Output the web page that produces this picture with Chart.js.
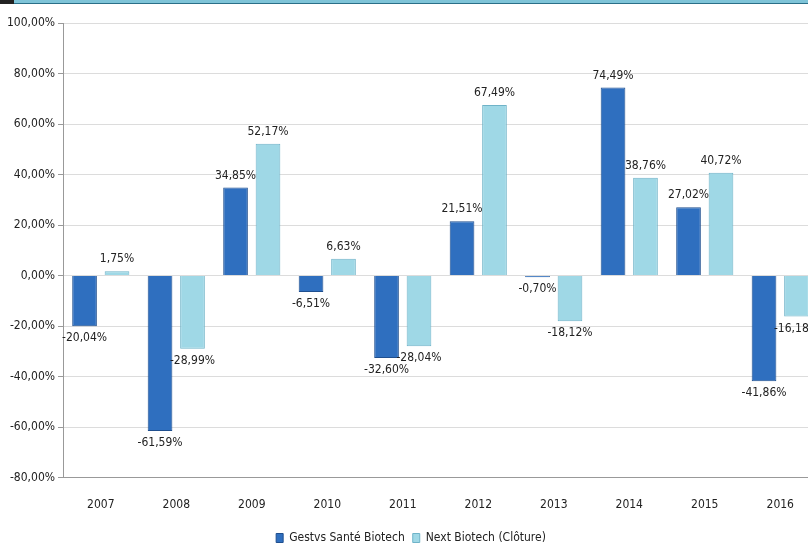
<!DOCTYPE html>
<html>
<head>
<meta charset="utf-8">
<script src="https://cdn.jsdelivr.net/npm/chart.js@4"></script>
<style>
  html, body { margin: 0; padding: 0; background: #fff; overflow: hidden; }
  #topbar { position: absolute; left: 0; top: 0; width: 808px; height: 3px; background: #7fc4d8; border-bottom: 1px solid #2a6f88; }
  #topbar-dark { position: absolute; left: 0; top: 0; width: 14px; height: 4px; background: #222; }
  #wrap { position: absolute; left: 0; top: 0; width: 818px; height: 554px; }
</style>
</head>
<body>
<div id="wrap"><canvas id="chart"></canvas></div>
<div id="topbar"></div><div id="topbar-dark"></div>
<script>
// Annual performance values
const years = ["2007", "2008", "2009", "2010", "2011", "2012", "2013", "2014", "2015", "2016"];
const gestvs = [-20.04, -61.59, 34.85, -6.51, -32.60, 21.51, -0.70, 74.49, 27.02, -41.86];
const nextBiotech = [1.75, -28.99, 52.17, 6.63, -28.04, 67.49, -18.12, 38.76, 40.72, -16.18];

const FONT = "'DejaVu Sans Condensed', sans-serif";

function fmt(v) {
    return v.toFixed(2).replace(".", ",") + "%";
}

// Draw value labels above/below each bar
const valueLabels = {
    id: "valueLabels",
    afterDatasetsDraw(chart) {
        const ctx = chart.ctx;
        ctx.save();
        ctx.font = "12px " + FONT;
        ctx.fillStyle = "#222";
        ctx.textAlign = "center";
        chart.data.datasets.forEach((ds, i) => {
            chart.getDatasetMeta(i).data.forEach((bar, j) => {
                const v = ds.data[j];
                if (v >= 0) {
                    ctx.textBaseline = "bottom";
                    ctx.fillText(fmt(v), bar.x, bar.y - 6);
                } else {
                    ctx.textBaseline = "top";
                    ctx.fillText(fmt(v), bar.x, bar.y + 6);
                }
            });
        });
        ctx.restore();
    }
};

const ctx = document.getElementById("chart").getContext("2d");
new Chart(ctx, {
    type: "bar",
    data: {
        labels: years,
        datasets: [{
            label: "Gestvs Santé Biotech",
            data: gestvs,
            backgroundColor: "#2f6fbf",
            borderColor: "#1f4f8f",
            borderWidth: 1
        }, {
            label: "Next Biotech (Clôture)",
            data: nextBiotech,
            backgroundColor: "#9fd8e6",
            borderColor: "#6fb3c8",
            borderWidth: 1
        }]
    },
    options: {
        responsive: true,
        maintainAspectRatio: false,
        animation: false,
        categoryPercentage: 0.86,
        barPercentage: 0.76,
        layout: { padding: { top: 23, left: 4, right: 0, bottom: 0 } },
        plugins: {
            legend: {
                position: "bottom",
                labels: {
                    boxWidth: 7, boxHeight: 9, padding: 8,
                    color: "#222",
                    font: { family: FONT, size: 12 }
                }
            },
            tooltip: { enabled: false }
        },
        scales: {
            y: {
                min: -80, max: 100,
                ticks: {
                    stepSize: 20,
                    color: "#222",
                    font: { family: FONT, size: 12 },
                    callback: v => v.toFixed(2).replace(".", ",") + "%"
                },
                grid: { color: "#dcdcdc", tickColor: "#999", tickLength: 5 },
                border: { color: "#999" }
            },
            x: {
                ticks: {
                    color: "#222",
                    padding: 12,
                    font: { family: FONT, size: 12 }
                },
                grid: { display: false },
                border: { color: "#999" }
            }
        }
    },
    plugins: [valueLabels]
});
</script>
</body>
</html>
